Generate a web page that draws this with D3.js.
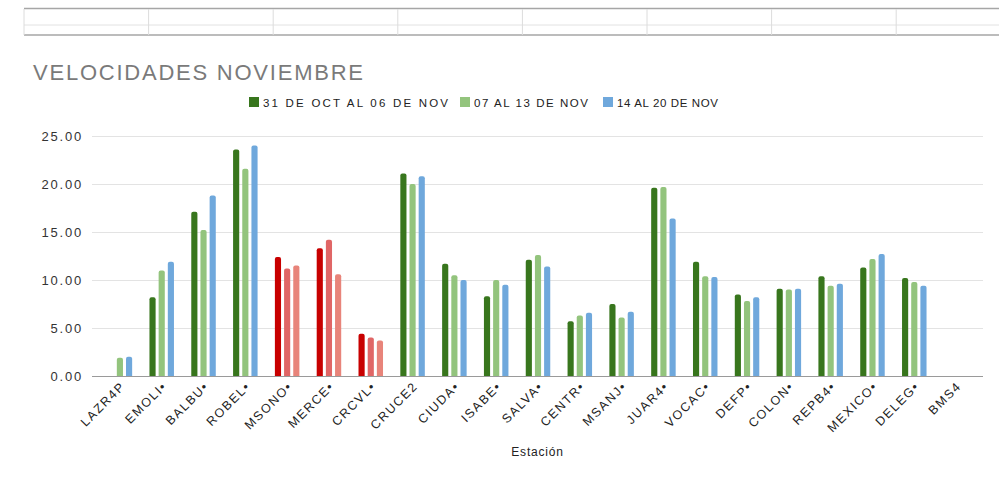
<!DOCTYPE html>
<html>
<head>
<meta charset="utf-8">
<script src="https://cdn.jsdelivr.net/npm/d3@7"></script>
<style>
  html, body { margin: 0; padding: 0; background: #fff; }
  svg { display: block; font-family: "Liberation Sans", Arial, sans-serif; }
</style>
</head>
<body>
<svg id="chart" width="999" height="483"></svg>
<script>
// Estaciones y velocidades promedio por semana
const stations = ["LAZR4P", "EMOLI•", "BALBU•", "ROBEL•", "MSONO•", "MERCE•", "CRCVL•", "CRUCE2",
  "CIUDA•", "ISABE•", "SALVA•", "CENTR•", "MSANJ•", "JUAR4•", "VOCAC•", "DEFP•", "COLON•",
  "REPB4•", "MEXICO•", "DELEG•", "BMS4"];
const week1 = [null, 8.2, 17.1, 23.6, 12.4, 13.3, 4.4, 21.1, 11.7, 8.3, 12.1, 5.7, 7.5, 19.6, 11.9, 8.5, 9.1, 10.4, 11.3, 10.2, null];
const week2 = [1.9, 11.0, 15.2, 21.6, 11.2, 14.2, 4.0, 20.0, 10.5, 10.0, 12.6, 6.3, 6.1, 19.7, 10.4, 7.8, 9.0, 9.4, 12.2, 9.8, null];
const week3 = [2.0, 11.9, 18.8, 24.0, 11.5, 10.6, 3.7, 20.8, 10.0, 9.5, 11.4, 6.6, 6.7, 16.4, 10.3, 8.2, 9.1, 9.6, 12.7, 9.4, null];
const seriesNames = ["31 DE OCT AL 06 DE NOV", "07 AL 13 DE NOV", "14 AL 20 DE NOV"];
const yTicks = [0, 5, 10, 15, 20, 25];
// estaciones resaltadas en rojo
const highlighted = ["MSONO•", "MERCE•", "CRCVL•"];

const greens = ["#38761d", "#93c47d", "#6fa8dc"];
const reds = ["#c80000", "#e06666", "#e8847a"];

const svg = d3.select("#chart");

// cuadrícula de la hoja de cálculo en la parte superior
const sheet = svg.append("g");
const colEdges = d3.range(24, 999, 124.6);
sheet.append("line").attr("x1", 24).attr("x2", 999).attr("y1", 8.5).attr("y2", 8.5)
  .attr("stroke", "#a6a6a6").attr("stroke-width", 1.5);
sheet.append("line").attr("x1", 24).attr("x2", 999).attr("y1", 25).attr("y2", 25)
  .attr("stroke", "#e2e2e2").attr("stroke-width", 1);
sheet.append("line").attr("x1", 24).attr("x2", 999).attr("y1", 35).attr("y2", 35)
  .attr("stroke", "#a6a6a6").attr("stroke-width", 1.5);
sheet.selectAll("line.col").data(colEdges).join("line").attr("class", "col")
  .attr("x1", d => d).attr("x2", d => d).attr("y1", 9).attr("y2", 35)
  .attr("stroke", "#dcdcdc").attr("stroke-width", 1);

// título
svg.append("text").attr("x", 33).attr("y", 80)
  .attr("font-size", 22).attr("fill", "#7a7a7a")
  .attr("textLength", 330).attr("lengthAdjust", "spacing")
  .text("VELOCIDADES NOVIEMBRE");

// escalas
const plotLeft = 92, plotRight = 983;
const y = d3.scaleLinear().domain([0, 25]).range([376, 136]);
const x0 = d3.scaleBand().domain(stations).range([99, 977]).padding(0);
const x1 = d3.scaleBand().domain([0, 1, 2]).range([0, 24.5]).paddingInner(0.33);

// líneas de cuadrícula y etiquetas del eje Y
const grid = svg.append("g");
grid.selectAll("line").data(yTicks.filter(d => d > 0)).join("line")
  .attr("x1", plotLeft).attr("x2", plotRight)
  .attr("y1", d => y(d) + 0.5).attr("y2", d => y(d) + 0.5)
  .attr("stroke", "#e3e3e3").attr("stroke-width", 1);
svg.append("g").selectAll("text").data(yTicks).join("text")
  .attr("x", 83).attr("y", d => y(d) + 4.5)
  .attr("text-anchor", "end").attr("font-size", 13).attr("fill", "#333")
  .attr("letter-spacing", 1.8)
  .text(d => d3.format(".2f")(d));

// barras
const allSeries = [week1, week2, week3];
const bars = [];
stations.forEach((s, i) => {
  allSeries.forEach((arr, k) => {
    if (arr[i] != null) bars.push({ station: s, k, value: arr[i] });
  });
});
function barPath(d) {
  const cx = x0(d.station) + x0.bandwidth() / 2;
  const bx = cx - 12.25 + x1(d.k);
  const w = x1.bandwidth();
  const top = y(d.value), base = y(0);
  const r = 2;
  return `M${bx},${base}V${top + r}Q${bx},${top} ${bx + r},${top}H${bx + w - r}Q${bx + w},${top} ${bx + w},${top + r}V${base}Z`;
}
svg.append("g").selectAll("path").data(bars).join("path")
  .attr("d", barPath)
  .attr("fill", d => highlighted.includes(d.station) ? reds[d.k] : greens[d.k]);

// eje X
svg.append("line").attr("x1", plotLeft).attr("x2", plotRight)
  .attr("y1", y(0) + 0.5).attr("y2", y(0) + 0.5)
  .attr("stroke", "#9a9a9a").attr("stroke-width", 1.2);

svg.append("g").selectAll("text").data(stations).join("text")
  .attr("transform", d => `translate(${x0(d) + x0.bandwidth() / 2 + 6},${387}) rotate(-45)`)
  .attr("text-anchor", "end").attr("font-size", 12.5).attr("fill", "#222")
  .attr("letter-spacing", 1.6)
  .text(d => d);

svg.append("text").attr("x", (plotLeft + plotRight) / 2).attr("y", 456)
  .attr("text-anchor", "middle").attr("font-size", 12).attr("fill", "#222")
  .attr("letter-spacing", 0.8)
  .text("Estación");

// leyenda
const legendX = [249, 460, 603];
const legendW = [185, 114, 101];
const legend = svg.append("g");
seriesNames.forEach((name, k) => {
  legend.append("rect").attr("x", legendX[k]).attr("y", 97).attr("width", 10).attr("height", 10)
    .attr("fill", greens[k]);
  legend.append("text").attr("x", legendX[k] + 14).attr("y", 106.5)
    .attr("font-size", 11.5).attr("fill", "#222")
    .attr("textLength", legendW[k]).attr("lengthAdjust", "spacing")
    .text(name);
});
</script>
</body>
</html>
